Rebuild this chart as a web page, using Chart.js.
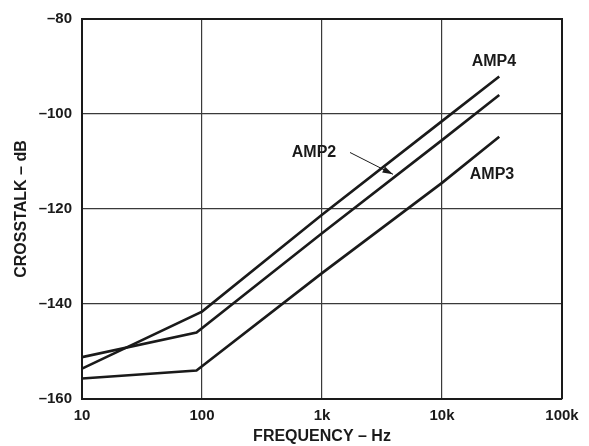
<!DOCTYPE html>
<html>
<head>
<meta charset="utf-8">
<script src="https://cdn.jsdelivr.net/npm/chart.js@4.4.1/dist/chart.umd.min.js"></script>
<style>
  html, body { margin: 0; padding: 0; background: #fff; }
  #wrap { width: 589px; height: 446px; position: relative; }
</style>
</head>
<body>
<div id="wrap"><canvas id="chart"></canvas></div>
<script>
// Значения (частота, Гц / перекрёстные помехи, дБ)
const amp4Freq = [10, 100, 1000, 10000, 30000]
const amp4Db = [-153.6, -141.6, -121.2, -101.5, -92.1]

const amp2Freq = [10, 90, 1000, 10000, 30000]
const amp2Db = [-151.2, -146.0, -125.1, -105.5, -96.0]

const amp3Freq = [10, 90, 1000, 10000, 30000]
const amp3Db = [-155.7, -154.0, -133.5, -114.5, -104.8]

const xTicks = [10, 100, 1000, 10000, 100000]
const xTickLabels = ["10", "100", "1k", "10k", "100k"]
const yTicks = [-160, -140, -120, -100, -80]

const toPoints = (xs, ys) => xs.map((x, i) => ({ x, y: ys[i] }))

const FONT = "'Liberation Sans', Arial, Helvetica, sans-serif"
const INK = "#1a1a1a"

// Подписи кривых и стрелка к AMP2 (в координатах данных)
const labels = [
  { text: "AMP4", x: 27100, y: -89.0 },
  { text: "AMP2", x: 858, y: -108.2 },
  { text: "AMP3", x: 26100, y: -112.7 }
]
const arrow = { from: { x: 1711, y: -108.1 }, to: { x: 3905, y: -112.7 } }

const annotations = {
  id: "annotations",
  afterDatasetsDraw(chart) {
    const { ctx, chartArea, scales: { x, y } } = chart
    ctx.save()
    // верхняя и правая рамка
    ctx.strokeStyle = INK
    ctx.lineWidth = 2
    ctx.beginPath()
    ctx.moveTo(chartArea.left, chartArea.top)
    ctx.lineTo(chartArea.right, chartArea.top)
    ctx.lineTo(chartArea.right, chartArea.bottom)
    ctx.stroke()

    ctx.fillStyle = INK
    ctx.font = "bold 16px " + FONT
    ctx.textAlign = "center"
    ctx.textBaseline = "middle"
    labels.forEach(l => {
      ctx.fillText(l.text, x.getPixelForValue(l.x), y.getPixelForValue(l.y))
    })

    const x1 = x.getPixelForValue(arrow.from.x), y1 = y.getPixelForValue(arrow.from.y)
    const x2 = x.getPixelForValue(arrow.to.x), y2 = y.getPixelForValue(arrow.to.y)
    const ang = Math.atan2(y2 - y1, x2 - x1)
    ctx.lineWidth = 1
    ctx.beginPath()
    ctx.moveTo(x1, y1)
    ctx.lineTo(x2, y2)
    ctx.stroke()
    ctx.beginPath()
    ctx.moveTo(x2, y2)
    ctx.lineTo(x2 - 11 * Math.cos(ang - 0.3), y2 - 11 * Math.sin(ang - 0.3))
    ctx.lineTo(x2 - 11 * Math.cos(ang + 0.3), y2 - 11 * Math.sin(ang + 0.3))
    ctx.closePath()
    ctx.fill()
    ctx.restore()
  }
}

const lineStyle = {
  borderColor: INK,
  borderWidth: 2.6,
  pointRadius: 0,
  tension: 0,
  fill: false
}

new Chart(document.getElementById("chart"), {
  type: "line",
  data: {
    datasets: [
      { label: "AMP4", data: toPoints(amp4Freq, amp4Db), ...lineStyle },
      { label: "AMP2", data: toPoints(amp2Freq, amp2Db), ...lineStyle },
      { label: "AMP3", data: toPoints(amp3Freq, amp3Db), ...lineStyle }
    ]
  },
  options: {
    responsive: true,
    maintainAspectRatio: false,
    animation: false,
    layout: { padding: { top: 15, right: 27, left: 0, bottom: 0 } },
    plugins: {
      legend: { display: false },
      tooltip: { enabled: false }
    },
    scales: {
      x: {
        type: "logarithmic",
        min: 10,
        max: 100000,
        afterBuildTicks: scale => { scale.ticks = xTicks.map(v => ({ value: v })) },
        afterFit: scale => { scale.height = 47 },
        ticks: {
          color: INK,
          padding: 8,
          maxRotation: 0,
          font: { family: FONT, size: 15, weight: "bold" },
          callback: v => xTickLabels[xTicks.indexOf(v)]
        },
        grid: { color: "#3a3a3a", lineWidth: 1.2, drawTicks: false },
        border: { color: INK, width: 2 },
        title: {
          display: true,
          text: "FREQUENCY – Hz",
          color: INK,
          padding: { top: 0, bottom: 0 },
          font: { family: FONT, size: 16, weight: "bold" }
        }
      },
      y: {
        min: -160,
        max: -80,
        afterBuildTicks: scale => { scale.ticks = yTicks.map(v => ({ value: v })) },
        afterFit: scale => { scale.width = 82 },
        ticks: {
          color: INK,
          padding: 10,
          font: { family: FONT, size: 15, weight: "bold" },
          callback: v => "–" + Math.abs(v)
        },
        grid: { color: "#3a3a3a", lineWidth: 1.2, drawTicks: false },
        border: { color: INK, width: 2 },
        title: {
          display: true,
          text: "CROSSTALK – dB",
          color: INK,
          padding: { top: 12, bottom: 0 },
          font: { family: FONT, size: 16, weight: "bold" }
        }
      }
    }
  },
  plugins: [annotations]
})
</script>
</body>
</html>
